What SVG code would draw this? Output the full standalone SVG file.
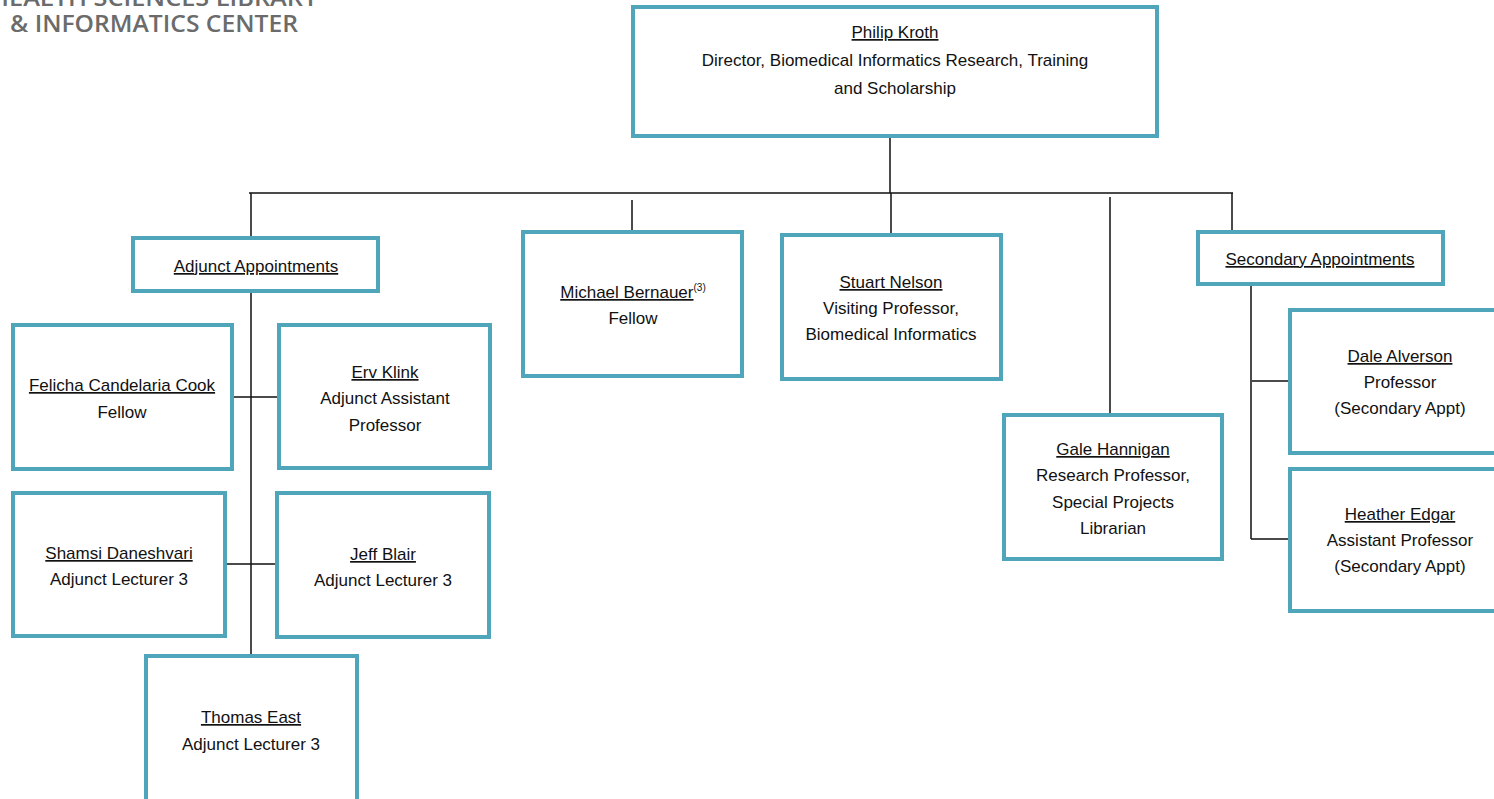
<svg xmlns="http://www.w3.org/2000/svg" width="1494" height="799" viewBox="0 0 1494 799">
<style>
.box{fill:#fff;stroke:#4fa5b9;stroke-width:4}
.t{font-family:"Liberation Sans",Arial,sans-serif;font-size:17px;fill:#111;text-anchor:middle}
.n{text-decoration:underline}
.c{stroke:#111;stroke-width:1.5;fill:none}
.logo{font-family:"Open Sans","Liberation Sans",Arial,sans-serif;font-weight:600;font-size:24px;fill:#6b6b6b}
</style>
<rect width="1494" height="799" fill="#fff"/>
<g id="logo">
<text class="logo" x="-10" y="6" textLength="328" lengthAdjust="spacingAndGlyphs">HEALTH SCIENCES LIBRARY</text>
<text class="logo" x="10" y="32" textLength="288" lengthAdjust="spacingAndGlyphs">&amp; INFORMATICS CENTER</text>
</g>
<g id="connectors">
<path class="c" d="M890 136V193M249 193H1233M251 193V238M632 200V230M891 193V235M1110 197V415M1232 193V232"/>
<path class="c" d="M251 291V656M232 397H278M225 564H277"/>
<path class="c" d="M1251 284V539M1252 381H1290M1251 539H1290"/>
</g>
<g id="kroth">
<rect class="box" x="633" y="7" width="524" height="129"/>
<text class="t" x="895" y="38"><tspan class="n">Philip Kroth</tspan></text>
<text class="t" x="895" y="66">Director, Biomedical Informatics Research, Training</text>
<text class="t" x="895" y="94">and Scholarship</text>
</g>
<g id="adjunct">
<rect class="box" x="133" y="238" width="245" height="53"/>
<text class="t n" x="256" y="272">Adjunct Appointments</text>
</g>
<g id="cook">
<rect class="box" x="13" y="325" width="219" height="144"/>
<text class="t n" x="122" y="391">Felicha Candelaria Cook</text>
<text class="t" x="122" y="418">Fellow</text>
</g>
<g id="klink">
<rect class="box" x="279" y="325" width="211" height="143"/>
<text class="t n" x="385" y="378">Erv Klink</text>
<text class="t" x="385" y="404">Adjunct Assistant</text>
<text class="t" x="385" y="431">Professor</text>
</g>
<g id="daneshvari">
<rect class="box" x="13" y="493" width="212" height="143"/>
<text class="t n" x="119" y="559">Shamsi Daneshvari</text>
<text class="t" x="119" y="585">Adjunct Lecturer 3</text>
</g>
<g id="blair">
<rect class="box" x="277" y="493" width="212" height="144"/>
<text class="t n" x="383" y="560">Jeff Blair</text>
<text class="t" x="383" y="586">Adjunct Lecturer 3</text>
</g>
<g id="east">
<rect class="box" x="146" y="656" width="211" height="150"/>
<text class="t n" x="251" y="723">Thomas East</text>
<text class="t" x="251" y="750">Adjunct Lecturer 3</text>
</g>
<g id="bernauer">
<rect class="box" x="523" y="232" width="219" height="144"/>
<text class="t" x="633" y="298"><tspan class="n">Michael Bernauer</tspan><tspan font-size="10" dy="-7">(3)</tspan></text>
<text class="t" x="633" y="324">Fellow</text>
</g>
<g id="nelson">
<rect class="box" x="782" y="235" width="219" height="144"/>
<text class="t n" x="891" y="288">Stuart Nelson</text>
<text class="t" x="891" y="314">Visiting Professor,</text>
<text class="t" x="891" y="340">Biomedical Informatics</text>
</g>
<g id="hannigan">
<rect class="box" x="1004" y="415" width="218" height="144"/>
<text class="t n" x="1113" y="455">Gale Hannigan</text>
<text class="t" x="1113" y="481">Research Professor,</text>
<text class="t" x="1113" y="508">Special Projects</text>
<text class="t" x="1113" y="534">Librarian</text>
</g>
<g id="secondary">
<rect class="box" x="1198" y="232" width="245" height="52"/>
<text class="t n" x="1320" y="265">Secondary Appointments</text>
</g>
<g id="alverson">
<rect class="box" x="1290" y="310" width="220" height="143"/>
<text class="t n" x="1400" y="362">Dale Alverson</text>
<text class="t" x="1400" y="388">Professor</text>
<text class="t" x="1400" y="414">(Secondary Appt)</text>
</g>
<g id="edgar">
<rect class="box" x="1290" y="469" width="220" height="142"/>
<text class="t n" x="1400" y="520">Heather Edgar</text>
<text class="t" x="1400" y="546">Assistant Professor</text>
<text class="t" x="1400" y="572">(Secondary Appt)</text>
</g>
</svg>
